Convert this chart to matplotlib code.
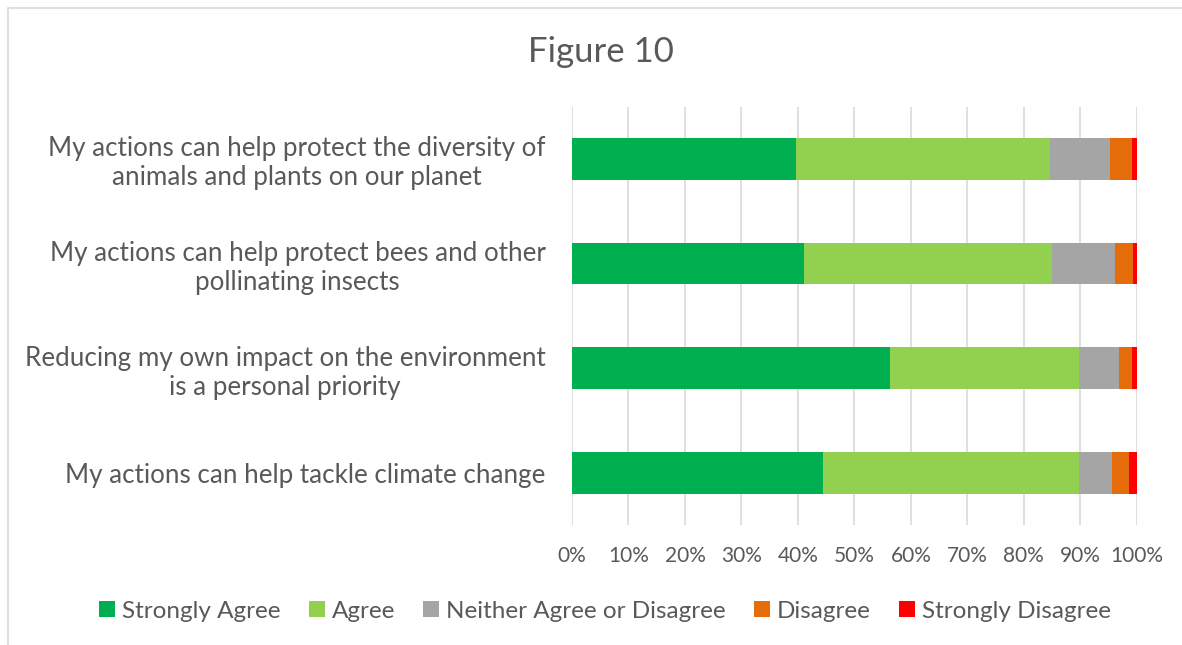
import matplotlib
matplotlib.use("Agg")
import matplotlib.pyplot as plt
from matplotlib.patches import Rectangle

plt.rcParams['font.family'] = ['Lato', 'DejaVu Sans']

statements = [
    "My actions can help tackle climate change",
    "Reducing my own impact on the environment\nis a personal priority",
    "My actions can help protect bees and other\npollinating insects",
    "My actions can help protect the diversity of\nanimals and plants on our planet",
]
responses = ["Strongly Agree", "Agree", "Neither Agree or Disagree", "Disagree", "Strongly Disagree"]
colours = ["#00B050", "#92D050", "#A5A5A5", "#E46C0A", "#FF0000"]

# share of respondents (%), bottom statement first
strongly_agree = [44.4, 56.3, 41.1, 39.7]
agree = [45.3, 33.5, 43.9, 45.0]
neither = [5.9, 7.1, 11.2, 10.6]
disagree = [3.0, 2.2, 3.1, 3.8]
strongly_disagree = [1.4, 0.9, 0.7, 0.9]
series = [strongly_agree, agree, neither, disagree, strongly_disagree]

fig = plt.figure(figsize=(11.82, 6.45), dpi=100)
ax = fig.add_axes([572 / 1182, 1 - 525 / 645, (1136.7 - 572) / 1182, 418.5 / 645])

# light frame round the whole chart
fig.patches.append(Rectangle((8 / 1182, -0.01), 1.02, 1 - 8 / 645 + 0.01,
                             transform=fig.transFigure, fill=False,
                             edgecolor="#D9D9D9", linewidth=1.2))

ypos = range(len(statements))
left = [0.0] * len(statements)
for name, vals, col in zip(responses, series, colours):
    ax.barh(ypos, vals, left=left, height=0.4, color=col, label=name, zorder=3)
    left = [l + v for l, v in zip(left, vals)]

ax.set_xlim(0, 100)
ax.set_ylim(-0.5, len(statements) - 0.5)
ax.set_xticks(range(0, 101, 10))
ax.set_xticklabels([f"{t}%" for t in range(0, 101, 10)])
ax.set_yticks(list(ypos))
ax.set_yticklabels(statements, multialignment="center", linespacing=1.2)
ax.tick_params(axis="both", length=0, colors="#595959")
ax.tick_params(axis="y", pad=19, labelsize=18.7)
ax.tick_params(axis="x", pad=15, labelsize=15)
ax.grid(axis="x", color="#D9D9D9", linewidth=1.2, zorder=0)
for s in ax.spines.values():
    s.set_visible(False)

fig.text(601 / 1182, 1 - 52 / 645, "Figure 10", ha="center", va="center",
         fontsize=25, color="#595959")

fig.legend(loc="center", bbox_to_anchor=(605 / 1182, 1 - 611 / 645), ncol=5, frameon=False,
           fontsize=17.5, labelcolor="#595959", handlelength=0.65, handleheight=0.65,
           handletextpad=0.3, columnspacing=1.15)

plt.savefig("out.png", dpi=100)
